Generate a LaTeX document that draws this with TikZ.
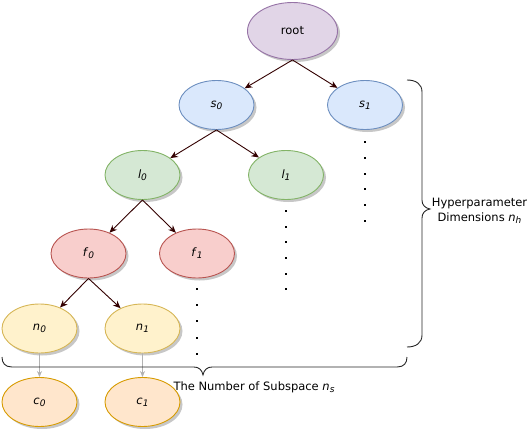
\documentclass[tikz,border=0pt]{standalone}
\usepackage{fontspec}
\setmainfont{DejaVu Sans}
\usetikzlibrary{shapes.geometric,shadows,arrows.meta}
\definecolor{arr}{RGB}{51,0,0}
\definecolor{rootF}{HTML}{E1D5E7}\definecolor{rootD}{HTML}{9673A6}
\definecolor{sF}{HTML}{DAE8FC}\definecolor{sD}{HTML}{6C8EBF}
\definecolor{lF}{HTML}{D5E8D4}\definecolor{lD}{HTML}{82B366}
\definecolor{fF}{HTML}{F8CECC}\definecolor{fD}{HTML}{B85450}
\definecolor{nF}{HTML}{FFF2CC}\definecolor{nD}{HTML}{D6B656}
\definecolor{cF}{HTML}{FFE6CC}\definecolor{cD}{HTML}{D79B00}
\newcommand{\lbl}[2]{\textit{#1}\raisebox{-0.35ex}{\fontsize{9}{9}\selectfont\textit{#2}}}
\tikzset{
  ell/.style={ellipse, minimum width=75pt, minimum height=49pt, inner sep=0pt, line width=0.9pt,
    font=\fontsize{11.5}{13}\selectfont,
    drop shadow={shadow xshift=2.5pt, shadow yshift=-2.5pt, fill=black, opacity=0.22}},
  rootst/.style={ell, minimum width=90pt, minimum height=57pt, fill=rootF, draw=rootD},
  sst/.style={ell, fill=sF, draw=sD},
  lst/.style={ell, fill=lF, draw=lD},
  fst/.style={ell, fill=fF, draw=fD},
  nst/.style={ell, fill=nF, draw=nD},
  cst/.style={ell, fill=cF, draw=cD},
  edge/.style={draw=arr, line width=0.9pt, -{Stealth[length=7.5pt,width=6.5pt]}},
  gedge/.style={draw=gray!60, line width=0.9pt, -{Stealth[length=6pt,width=5pt]}},
  dotst/.style={fill=black},
  txt/.style={font=\fontsize{11.5}{14.5}\selectfont, inner sep=0pt},
  brc/.style={draw=black!85, line width=0.9pt}
}
\begin{document}
\begin{tikzpicture}[x=1pt,y=-1pt]
\useasboundingbox (0,0) rectangle (528,432);
\node[rootst] (root) at (292.5,31) {root};
\node[sst] (s0) at (216.5,105) {\lbl{s}{0}};
\node[sst] (s1) at (365,105) {\lbl{s}{1}};
\node[lst] (l0) at (142.5,175) {\lbl{l}{0}};
\node[lst] (l1) at (286,175) {\lbl{l}{1}};
\node[fst] (f0) at (88.5,253.5) {\lbl{f}{0}};
\node[fst] (f1) at (197,253.5) {\lbl{f}{1}};
\node[nst] (n0) at (39.5,328.5) {\lbl{n}{0}};
\node[nst] (n1) at (142.5,328.5) {\lbl{n}{1}};
\node[cst] (c0) at (39.5,402) {\lbl{c}{0}};
\node[cst] (c1) at (142.5,402) {\lbl{c}{1}};

\draw[edge] (root.south) -- (s0);
\draw[edge] (root.south) -- (s1);
\draw[edge] (s0.south) -- (l0);
\draw[edge] (s0.south) -- (l1);
\draw[edge] (l0.south) -- (f0);
\draw[edge] (l0.south) -- (f1);
\draw[edge] (f0.south) -- (n0);
\draw[edge] (f0.south) -- (n1);
\draw[gedge] (n0.south) -- (c0.north);
\draw[gedge] (n1.south) -- (c1.north);

\foreach \y in {141,157,173,188,204,220} \fill[dotst] (363.5,\y) rectangle ++(2,2);
\foreach \y in {210,226,241,257,273,288} \fill[dotst] (284.5,\y) rectangle ++(2,2);
\foreach \y in {288,304,320,337,353} \fill[dotst] (195.5,\y) rectangle ++(2,2);

\draw[brc] (407,80) .. controls (416,80) and (422,84) .. (422,92) -- (422,200)
  .. controls (422,205) and (425,208) .. (430,209)
  .. controls (425,210) and (422,213) .. (422,218) -- (422,335)
  .. controls (422,343) and (416,347) .. (407,347);
\draw[brc] (2,357) .. controls (2,363) and (5,367) .. (12,367) -- (194,367)
  .. controls (199,367) and (202,370) .. (203,375)
  .. controls (204,370) and (207,367) .. (212,367) -- (397,367)
  .. controls (404,367) and (407,363) .. (407,357);

\node[txt, align=center] (hp) at (479.5,211) {Hyperparameter\\Dimensions \lbl{n}{h}};
\node[txt] (ns) at (254,387) {The Number of Subspace \lbl{n}{s}};
\end{tikzpicture}
\end{document}
